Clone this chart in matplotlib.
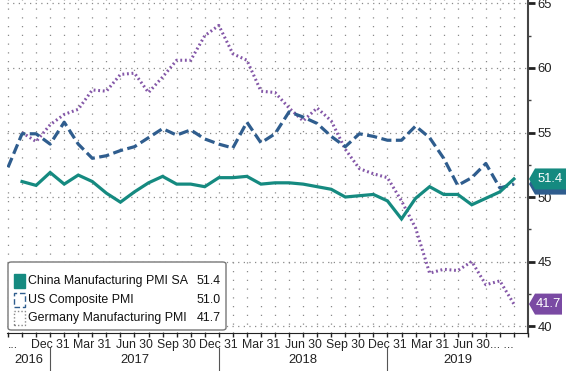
#!/usr/bin/env python
# -*- coding: utf-8 -*-

"""
China / US / Germany PMI chart, Bloomberg style.
"""

import numpy as np
import pandas as pd
import matplotlib
matplotlib.use('Agg')
import matplotlib.pyplot as plt
from matplotlib import font_manager
from matplotlib.font_manager import FontProperties
from matplotlib.textpath import TextToPath
from matplotlib.patches import Polygon, FancyBboxPatch, Rectangle

# monthly data, Sep 2016 .. Sep 2019
months = pd.period_range('2016-09', '2019-09', freq='M')

china = [np.nan, 51.2, 50.9, 51.9,
         51.0, 51.7, 51.2, 50.3, 49.6, 50.4, 51.1, 51.6, 51.0, 51.0, 50.8, 51.5,
         51.5, 51.6, 51.0, 51.1, 51.1, 51.0, 50.8, 50.6, 50.0, 50.1, 50.2, 49.7,
         48.3, 49.9, 50.8, 50.2, 50.2, 49.4, 49.9, 50.4, 51.4]
us = [52.3, 54.9, 54.9, 54.1,
      55.8, 54.1, 53.0, 53.2, 53.6, 53.9, 54.6, 55.3, 54.8, 55.2, 54.5, 54.1,
      53.8, 55.8, 54.2, 54.9, 56.6, 56.2, 55.7, 54.7, 53.9, 54.9, 54.7, 54.4,
      54.4, 55.5, 54.6, 53.0, 50.9, 51.5, 52.6, 50.7, 51.0]
germany = [np.nan, 55.0, 54.3, 55.6,
           56.4, 56.8, 58.3, 58.2, 59.5, 59.6, 58.1, 59.3, 60.6, 60.6, 62.5, 63.3,
           61.1, 60.6, 58.2, 58.1, 56.9, 55.9, 56.9, 55.9, 53.7, 52.2, 51.8, 51.5,
           49.7, 47.6, 44.1, 44.4, 44.3, 45.0, 43.2, 43.5, 41.7]

names = ['China Manufacturing PMI SA', 'US Composite PMI', 'Germany Manufacturing PMI']
last_values = ['51.4', '51.0', '41.7']
years = ['2016', '2017', '2018', '2019']

GREEN = '#158a80'
BLUE = '#2f5d8e'
PURPLE = '#8457a8'
TAG_PURPLE = '#7a4aa3'
GRID = '#8a8a8a'

W, H = 569, 371


def pick_font():
    for fam in ['Liberation Sans Narrow', 'Liberation Sans', 'DejaVu Sans']:
        try:
            font_manager.findfont(fam, fallback_to_default=False)
            return fam
        except Exception:
            pass
    return 'DejaVu Sans'


FONT = pick_font()
plt.rcParams['font.family'] = [FONT, 'DejaVu Sans']


def fit_size(text, target_px, base=10.0):
    """font size (pt) so that text is about target_px wide at 100 dpi"""
    prop = FontProperties(family=FONT, size=base)
    w, _, _ = TextToPath().get_text_width_height_descent(text, prop, ismath=False)
    return base * target_px / (w * 100 / 72.0)


FS_LEG = fit_size('China Manufacturing PMI SA', 160)
FS_TICK = fit_size('Jun 30', 37)
FS_YEAR = fit_size('2016', 29)
FS_Y = fit_size('65', 14.5)


def fx(px):
    return px / W


def fy(py):
    return 1 - py / H


fig = plt.figure(figsize=(W / 100, H / 100), dpi=100)
ax = fig.add_axes([fx(7), (H - 333) / H, (528 - 7) / W, 333 / H])

x = np.arange(len(months))
n_axis = len(months) + 1   # axis runs to end of Oct 2019

ax.set_xlim(-0.07, n_axis - 1)
ax.set_ylim(39.46, 65.27)

# grid
for yv in range(40, 66, 5):
    ax.axhline(yv, color=GRID, lw=0.9, ls=(0, (1, 3.5)), zorder=0)
for xv in range(0, n_axis - 1):
    ax.axvline(xv, color=GRID, lw=0.9, ls=(0, (1, 6)), zorder=0)

ax.plot(x, germany, color=PURPLE, lw=2.2, ls=(0, (0.6, 0.9)), zorder=2)
ax.plot(x, us, color=BLUE, lw=2.3, ls=(0, (3.2, 1.4)), zorder=3)
ax.plot(x, china, color=GREEN, lw=2.3, solid_joinstyle='miter', zorder=4)

# spines
for s in ['top', 'left']:
    ax.spines[s].set_visible(False)
ax.spines['bottom'].set_color('#222222')
ax.spines['right'].set_color('#444444')
ax.spines['right'].set_linewidth(1.5)

# right axis
ax.yaxis.tick_right()
ax.set_yticks(range(40, 66, 5))
ax.set_yticks(np.arange(42.5, 65, 5), minor=True)
ax.tick_params(axis='y', which='major', length=5, width=2, pad=2,
               labelsize=FS_Y, colors='#222222')
ax.tick_params(axis='y', which='minor', length=2.5, width=1, color='#444444')

# x axis: monthly ticks, quarter labels
all_months = pd.period_range('2016-09', '2019-10', freq='M')
ax.set_xticks(np.arange(n_axis), minor=True)
q_pos = [i for i, p in enumerate(all_months) if p.month in (3, 6, 9, 12)]
q_lab = ['%s %d' % (all_months[i].strftime('%b'), all_months[i].end_time.day) for i in q_pos]
q_lab[0] = '...'
q_lab[-1] = '... ...'
ax.set_xticks(q_pos)
ax.set_xticklabels(q_lab)
ax.tick_params(axis='x', which='both', length=3, width=1, pad=1.0,
               labelsize=FS_TICK, colors='#222222')
xl = ax.get_xticklabels()
xl[0].set_horizontalalignment('left')
xl[-1].set_horizontalalignment('right')

# year row
bounds = [i + 0.0 for i, p in enumerate(all_months) if p.month == 12]
edges = [-0.07] + bounds + [n_axis - 1]
trans = ax.get_xaxis_transform()
for k, yr in enumerate(years):
    ax.text((edges[k] + edges[k + 1]) / 2, -0.08, yr, transform=trans,
            ha='center', va='center', fontsize=FS_YEAR, color='#222222')
for b in bounds:
    ax.plot([b, b], [-0.045, -0.115], transform=trans, color='#555555',
            lw=0.8, clip_on=False)


# value tags on right axis
def tag(value, text, color, width=37, half=10.5, dy=0):
    _, yd = ax.transData.transform((0, value))
    yc = H - yd + dy
    x0 = 529
    verts = [(fx(x0), fy(yc)), (fx(x0 + 6), fy(yc - half)),
             (fx(x0 + width), fy(yc - half)), (fx(x0 + width), fy(yc + half)),
             (fx(x0 + 6), fy(yc + half))]
    fig.patches.append(Polygon(verts, closed=True, transform=fig.transFigure,
                               facecolor=color, edgecolor='none'))
    if text:
        fig.text(fx(x0 + 6 + (width - 6) / 2), fy(yc), text, ha='center',
                 va='center', color='white', fontsize=FS_Y)


tag(float(last_values[1]), '', BLUE)
tag(float(last_values[0]), last_values[0], GREEN)
tag(float(last_values[2]), last_values[2], TAG_PURPLE, width=33)

# legend box
fig.patches.append(FancyBboxPatch((fx(8), fy(330)), fx(226) - fx(8), fy(262) - fy(330),
                                  boxstyle='round,pad=0,rounding_size=0.006',
                                  transform=fig.transFigure, facecolor='white',
                                  edgecolor='#777777', lw=1, zorder=5))
rows = [281, 300, 318]
styles = [dict(facecolor=GREEN, edgecolor=GREEN, lw=1, ls='-'),
          dict(facecolor='white', edgecolor=BLUE, lw=1, ls=(0, (4, 2))),
          dict(facecolor='white', edgecolor='#888888', lw=1, ls=(0, (1, 1.5)))]
for r, name, val, st in zip(rows, names, last_values, styles):
    fig.patches.append(Rectangle((fx(14), fy(r + 7)), fx(11), fy(r - 7) - fy(r + 7),
                                 transform=fig.transFigure, zorder=6, **st))
    fig.text(fx(28), fy(r), name, ha='left', va='center', fontsize=FS_LEG,
             color='#111111', zorder=7)
    fig.text(fx(221), fy(r), val, ha='right', va='center', fontsize=FS_LEG,
             color='#111111', zorder=7)

fig.savefig('out.png', dpi=100)
